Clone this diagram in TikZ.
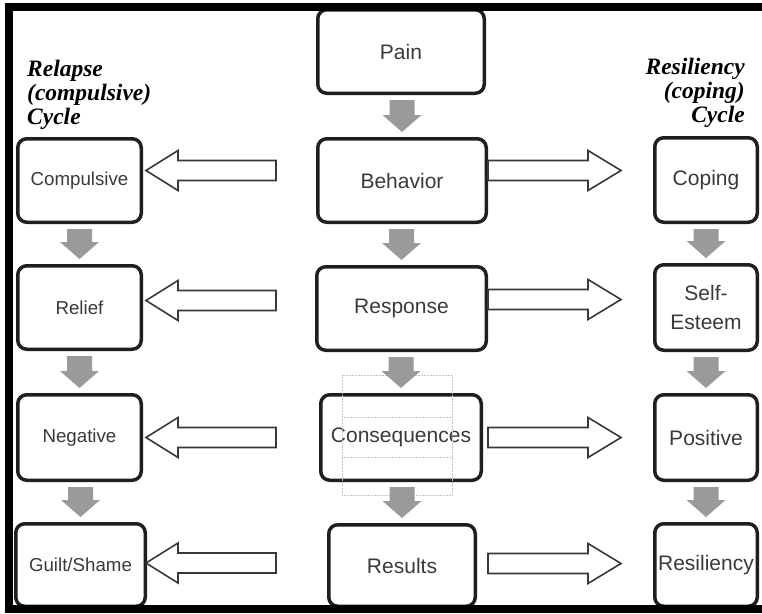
\documentclass[tikz,border=0pt]{standalone}
\usepackage{fontspec}
\setmainfont{Liberation Sans}
\newfontfamily\cyclefont{Liberation Serif}
\usetikzlibrary{calc}

\definecolor{txtgray}{HTML}{3A3A3A}
\definecolor{flowgray}{HTML}{9A9A9A}
\definecolor{cueline}{HTML}{383838}
\definecolor{guidegray}{HTML}{C4C4C4}

% grey block arrow from the bottom of one box to the top of the next
\newcommand\flowdown[2]{%
  \fill[flowgray]
    ($(#2.north |- #1.south)+(-12.5,5)$) --
    ($(#2.north)+(-12.5,-22)$) -- ($(#2.north)+(-19.5,-22)$) --
    ($(#2.north)+(0,-5)$) --
    ($(#2.north)+(19.5,-22)$) -- ($(#2.north)+(12.5,-22)$) --
    ($(#2.north |- #1.south)+(12.5,5)$) -- cycle;}

% hollow arrow pointing left, tip at the named coordinate
\newcommand\cueleft[1]{%
  \draw[cue] (#1) -- ($(#1)+(32,-20)$) -- ($(#1)+(32,-10)$) --
    ($(#1)+(130,-10)$) -- ($(#1)+(130,10)$) -- ($(#1)+(32,10)$) --
    ($(#1)+(32,20)$) -- cycle;}

% hollow arrow pointing right, tail at the named coordinate
\newcommand\cueright[1]{%
  \draw[cue] ($(#1)+(0,-10)$) -- ($(#1)+(100,-10)$) -- ($(#1)+(100,-20)$) --
    ($(#1)+(133,0)$) -- ($(#1)+(100,20)$) -- ($(#1)+(100,10)$) --
    ($(#1)+(0,10)$) -- cycle;}

\begin{document}
\begin{tikzpicture}[x=1pt,y=-1pt,
  stage/.style={draw=black!88, line width=3.5pt, rounded corners=9pt,
    fill=white, text=txtgray, inner sep=0pt, align=center,
    font=\fontsize{21}{29}\selectfont},
  sidestage/.style={stage, font=\fontsize{18.7}{24}\selectfont},
  cue/.style={draw=cueline, line width=1.6pt, fill=white, line join=miter},
  cycletitle/.style={inner sep=0pt,
    font=\cyclefont\bfseries\itshape\fontsize{23.5}{24.2}\selectfont},
  guide/.style={draw=guidegray, line width=0.5pt, densely dotted}]
\useasboundingbox (0,0) rectangle (762,613);
\fill[white] (0,0) rectangle (762,613);

% centre column
\node[stage, minimum width=166.5, minimum height=83.5] (pain) at (401,51.5) {Pain};
\node[stage, minimum width=168.5, minimum height=83.5] (behavior) at (402,180.5) {Behavior};
\node[stage, minimum width=169.5, minimum height=83.5] (response) at (401.5,308.5) {Response};
\node[stage, minimum width=160.5, minimum height=85.5] (conseq) at (401,437.5) {Consequences};
\node[stage, minimum width=146.5, minimum height=81.5] (results) at (402,565.5) {Results};

% relapse column
\node[sidestage, minimum width=123.5, minimum height=83.5] (compulsive) at (79.5,180.5) {Compulsive};
\node[sidestage, minimum width=123.5, minimum height=83.5] (relief) at (79.5,307.5) {Relief};
\node[sidestage, minimum width=123.5, minimum height=85.5] (negative) at (79.5,437.5) {Negative};
\node[sidestage, minimum width=129.5, minimum height=82.5] (guilt) at (80.5,565) {Guilt/Shame};

% resiliency column
\node[stage, minimum width=102.5, minimum height=84.5] (coping) at (706,180) {Coping};
\node[stage, minimum width=102.5, minimum height=85.5] (esteem) at (706,307.5) {Self-\\Esteem};
\node[stage, minimum width=102.5, minimum height=85.5] (positive) at (706,437.5) {Positive};
\node[stage, minimum width=102.5, minimum height=82.5] (resiliency) at (706,565) {Resiliency};

% column headings
\node[cycletitle, anchor=north west, align=left] (relapsetitle) at (27,60)
  {Relapse\\(compulsive)\\Cycle};
\node[cycletitle, anchor=north east, align=right] (copingtitle) at (745,58)
  {Resiliency\\(coping)\\Cycle};

% layout guides around Consequences
\draw[guide] (342,375) rectangle (452,495);
\draw[guide] (342,417) -- (452,417);
\draw[guide] (342,457) -- (452,457);

% downward flow
\flowdown{pain}{behavior}
\flowdown{behavior}{response}
\flowdown{response}{conseq}
\flowdown{conseq}{results}
\flowdown{compulsive}{relief}
\flowdown{relief}{negative}
\flowdown{negative}{guilt}
\flowdown{coping}{esteem}
\flowdown{esteem}{positive}
\flowdown{positive}{resiliency}

% sideways cues
\coordinate (l1) at ($(compulsive.east)+(3,-10)$);
\coordinate (l2) at ($(relief.east)+(3,-7)$);
\coordinate (l3) at ($(negative.east)+(3,0)$);
\coordinate (l4) at ($(guilt.east)+(-1,-2)$);
\coordinate (r1) at ($(behavior.east)+(0,-10)$);
\coordinate (r2) at ($(response.east)+(0,-9)$);
\coordinate (r3) at ($(conseq.east)+(5,0)$);
\coordinate (r4) at ($(results.east)+(11,-2)$);
\cueleft{l1}\cueleft{l2}\cueleft{l3}\cueleft{l4}
\cueright{r1}\cueright{r2}\cueright{r3}\cueright{r4}

% frame
\draw[line width=8pt, line join=miter] (762,7) -- (9,7) -- (9,609) -- (762,609);
\end{tikzpicture}
\end{document}
